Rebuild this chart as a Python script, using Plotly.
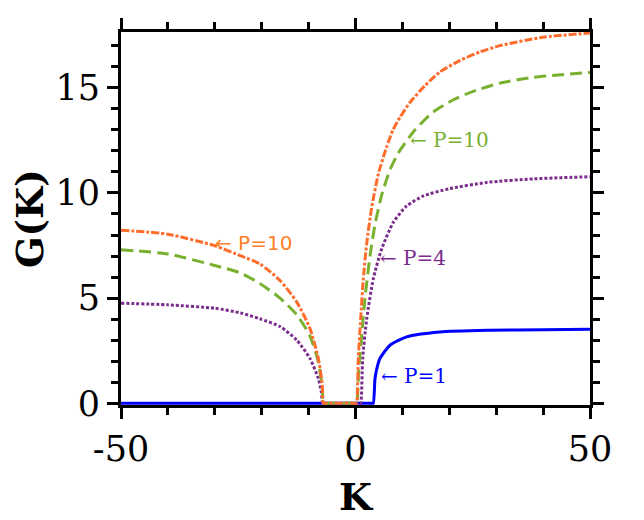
import plotly.graph_objects as go

# values
k_p1 = [-50, 3.6, 3.8, 4.16, 4.6, 5.2, 7.36, 10.9, 18, 28.7, 40, 50]
g_p1 = [0, 0, 0, 1.18, 1.7, 2.13, 2.76, 3.16, 3.39, 3.47, 3.5, 3.52]

k_p4 = [-50, -40, -30, -24.6, -20.4, -16.1, -12.5, -9.7, -7.93, -7.3, -7.0, -6.9,
        0.9, 1.1, 1.53, 2.39, 3.8, 5.58, 8.06, 10.9, 14.5, 20, 28, 38, 50]
g_p4 = [4.76, 4.68, 4.52, 4.3, 4.02, 3.65, 3.0, 2.13, 1.18, 0.55, 0, 0,
        0, 0, 2.13, 4.02, 5.92, 7.34, 8.6, 9.38, 9.86, 10.2, 10.5, 10.67, 10.77]

k_p10 = [-50, -40, -30, -24.6, -20.4, -16.1, -12.5, -9.7, -7.93, -7.08, -6.9, -6.8,
         0.2, 0.3, 0.7, 1.3, 2.03, 3.09, 4.16, 5.58, 7.36, 9.13, 12.7, 16.6, 20.9,
         25.1, 30.8, 38, 50]
g_p10 = [7.3, 7.1, 6.55, 6.2, 5.7, 5.0, 4.2, 3.2, 1.97, 0.71, 0, 0,
         0, 0, 1.6, 3.2, 5.0, 7.0, 8.5, 9.9, 11.1, 11.9, 13.0, 13.85, 14.43,
         14.83, 15.22, 15.5, 15.73]

k_p10b = [-50, -40, -30, -24.6, -20.4, -16.1, -12.5, -9.7, -7.93, -7.08, -6.9, -6.8,
          0.15, 0.25, 0.6, 1.1, 1.66, 2.39, 3.45, 4.87, 6.65, 8.0, 9.5, 11.6, 14.8,
          18, 22.3, 26.5, 30.8, 40, 50]
g_p10b = [8.23, 8.04, 7.49, 7.02, 6.63, 5.84, 4.81, 3.55, 2.13, 0.87, 0, 0,
          0, 0, 2.13, 4.0, 5.9, 7.6, 9.3, 10.9, 12.2, 13.0, 13.6, 14.3, 15.1,
          15.75, 16.3, 16.7, 17.0, 17.4, 17.6]

x_ticks = [-50, 0, 50]
y_ticks = [0, 5, 10, 15]

fig = go.Figure()
fig.add_trace(go.Scatter(x=k_p1, y=g_p1, mode='lines',
                         line=dict(color='#0000ff', width=3, shape='spline', smoothing=0.6)))
fig.add_trace(go.Scatter(x=k_p4, y=g_p4, mode='lines',
                         line=dict(color='#7b2d8e', width=3, dash='3px,2px',
                                   shape='spline', smoothing=0.6)))
fig.add_trace(go.Scatter(x=k_p10, y=g_p10, mode='lines',
                         line=dict(color='#78b030', width=3, dash='12px,6px',
                                   shape='spline', smoothing=0.6)))
fig.add_trace(go.Scatter(x=k_p10b, y=g_p10b, mode='lines',
                         line=dict(color='#ff6d2e', width=3, dash='8px,2px,3px,2px',
                                   shape='spline', smoothing=0.6)))

labels = [
    (-30.3, 7.6, '← P=10', '#ff7f2a', 'DejaVu Sans'),
    (11.2, 12.5, '← P=10', '#78b030', 'DejaVu Serif'),
    (4.85, 6.9, '← P=4', '#7b2d8e', 'DejaVu Serif'),
    (5.07, 1.3, '← P=1', '#0000ff', 'DejaVu Serif'),
]
for x, y, txt, col, fam in labels:
    fig.add_annotation(x=x, y=y, text=txt, showarrow=False, xanchor='left',
                       yanchor='middle', font=dict(family=fam, size=20, color=col))

# y axis title as annotation so it can sit close to the page edge
fig.add_annotation(x=-0.195, y=0.5, xref='paper', yref='paper', text='<b>G(K)</b>',
                   textangle=-90, showarrow=False, xanchor='center', yanchor='middle',
                   font=dict(family='DejaVu Serif', size=37, color='black'))

axis_style = dict(showline=True, linecolor='black', linewidth=3, mirror='ticks',
                  ticks='outside', ticklen=11, tickwidth=2.5, tickcolor='black',
                  showgrid=False, zeroline=False, layer='below traces',
                  tickfont=dict(family='DejaVu Serif', size=35, color='black'))

fig.update_xaxes(range=[-50, 50], tickvals=x_ticks, ticktext=[str(v) for v in x_ticks],
                 minor=dict(dtick=10, tick0=-50, ticks='outside', ticklen=7,
                            tickwidth=2.5, tickcolor='black'),
                 title=dict(text='<b>K</b>', font=dict(family='DejaVu Serif', size=38,
                                                      color='black'), standoff=16),
                 **axis_style)
fig.update_yaxes(range=[-0.08, 17.65], tickvals=y_ticks, ticklabelstandoff=0,
                 minor=dict(dtick=1, tick0=0, ticks='outside', ticklen=7,
                            tickwidth=2.5, tickcolor='black'),
                 **axis_style)

fig.update_layout(width=636, height=512, showlegend=False,
                  margin=dict(l=113, r=54, t=24, b=115, autoexpand=False),
                  plot_bgcolor='white', paper_bgcolor='white')

fig.write_html("out.html")
